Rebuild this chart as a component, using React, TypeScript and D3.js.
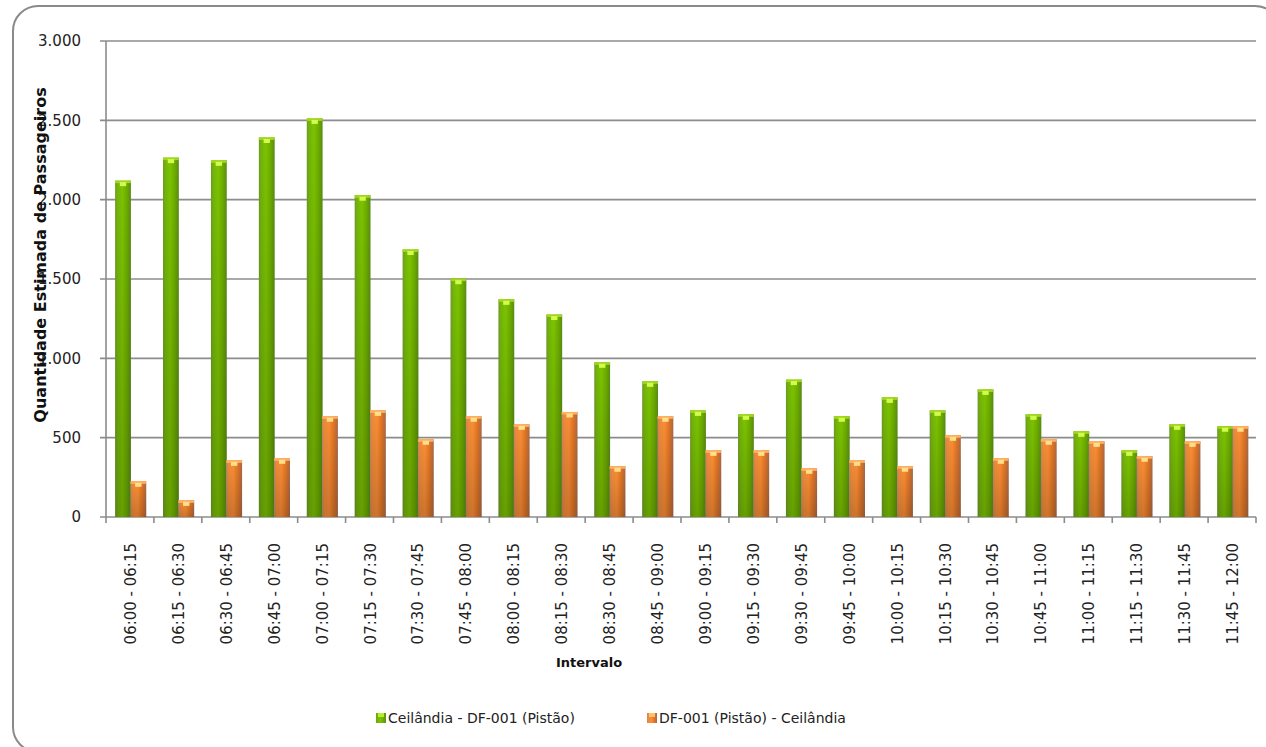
import React from "react";
import * as d3 from "d3";

const categories = [
  "06:00 - 06:15", "06:15 - 06:30", "06:30 - 06:45", "06:45 - 07:00",
  "07:00 - 07:15", "07:15 - 07:30", "07:30 - 07:45", "07:45 - 08:00",
  "08:00 - 08:15", "08:15 - 08:30", "08:30 - 08:45", "08:45 - 09:00",
  "09:00 - 09:15", "09:15 - 09:30", "09:30 - 09:45", "09:45 - 10:00",
  "10:00 - 10:15", "10:15 - 10:30", "10:30 - 10:45", "10:45 - 11:00",
  "11:00 - 11:15", "11:15 - 11:30", "11:30 - 11:45", "11:45 - 12:00",
];
const ceilandiaDF001 = [
  2120, 2265, 2248, 2392, 2512, 2028, 1686, 1502, 1372, 1276, 975, 855,
  672, 647, 866, 635, 754, 672, 804, 647, 540, 420, 584, 572,
];
const df001Ceilandia = [
  225, 105, 357, 370, 635, 672, 490, 635, 584, 662, 320, 635,
  420, 420, 307, 357, 320, 515, 370, 490, 477, 383, 477, 572,
];
const yTicks = [0, 500, 1000, 1500, 2000, 2500, 3000];
const seriesNames = ["Ceilândia - DF-001 (Pistão)", "DF-001 (Pistão) - Ceilândia"];

const W = 1266;
const H = 747;
const plot = { left: 106, right: 1256, top: 41, bottom: 517 };
const FONT = "'DejaVu Sans', sans-serif";
const fmt = (v: number) => (v === 0 ? "0" : d3.format(",")(v).replace(/,/g, "."));

export default function App() {
  const x = d3.scaleBand<string>().domain(categories).range([plot.left, plot.right]).padding(0);
  const y = d3.scaleLinear().domain([0, 3000]).range([plot.bottom, plot.top]);
  const bw = x.bandwidth();
  const series = [
    { values: ceilandiaDF001, off: 0.19, grad: "gG", cap: "#9fd81a", hi: "#d4fa50" },
    { values: df001Ceilandia, off: 0.51, grad: "gO", cap: "#ffb060", hi: "#ffe08a" },
  ];
  const barW = bw * 0.33;

  return (
    <svg width={W} height={H} style={{ position: "absolute", left: 0, top: 0, background: "#fff" }}>
      <defs>
        <linearGradient id="gG" x1="0" x2="1" y1="0" y2="0">
          <stop offset="0" stopColor="#6c9a2c" />
          <stop offset="0.15" stopColor="#74b40a" />
          <stop offset="0.45" stopColor="#7cc400" />
          <stop offset="0.75" stopColor="#6cac00" />
          <stop offset="1" stopColor="#5a8c14" />
        </linearGradient>
        <linearGradient id="gO" x1="0" x2="1" y1="0" y2="0">
          <stop offset="0" stopColor="#c08a68" />
          <stop offset="0.15" stopColor="#f08a3a" />
          <stop offset="0.45" stopColor="#fa8e34" />
          <stop offset="0.75" stopColor="#e07424" />
          <stop offset="1" stopColor="#a86a4a" />
        </linearGradient>
        <linearGradient id="shade" x1="0" x2="0" y1="0" y2="1">
          <stop offset="0" stopColor="#000" stopOpacity="0" />
          <stop offset="1" stopColor="#000" stopOpacity="0.18" />
        </linearGradient>
      </defs>

      <rect x={13} y={6} width={1267} height={746} rx={25} ry={25} fill="#fff" stroke="#8a8a8a" strokeWidth={2} />

      {/* gridlines */}
      {yTicks.map((t) => (
        <line key={"g" + t} x1={plot.left - 6} x2={plot.right} y1={y(t)} y2={y(t)} stroke="#8c8c8c" strokeWidth={1.6} />
      ))}
      <line x1={plot.left} x2={plot.left} y1={plot.top} y2={plot.bottom} stroke="#8c8c8c" strokeWidth={1.6} />
      {d3.range(categories.length + 1).map((i) => {
        const xx = plot.left + i * bw;
        return <line key={"xt" + i} x1={xx} x2={xx} y1={plot.bottom} y2={plot.bottom + 6} stroke="#8c8c8c" strokeWidth={1.6} />;
      })}

      {/* bars */}
      {categories.map((c, i) => (
        <g key={c}>
          {series.map((s, k) => {
            const x0 = (x(c) as number) + bw * s.off;
            const v = s.values[i];
            const top = y(v);
            const h = plot.bottom - top;
            return (
              <g key={k}>
                <rect x={x0} y={top} width={barW} height={h} fill={`url(#${s.grad})`} />
                <rect x={x0} y={top} width={barW} height={h} fill="url(#shade)" />
                <rect x={x0} y={top} width={barW} height={2.5} fill={s.cap} />
                <rect x={x0 + barW * 0.3} y={top + 1.5} width={barW * 0.4} height={4} fill={s.hi} />
              </g>
            );
          })}
        </g>
      ))}

      {/* y tick labels */}
      {yTicks.map((t) => (
        <text key={"yl" + t} x={81} y={y(t)} dy="0.36em" textAnchor="end" fontFamily={FONT} fontSize={15} fill="#222">
          {fmt(t)}
        </text>
      ))}

      {/* x tick labels */}
      {categories.map((c) => {
        const cx = (x(c) as number) + bw / 2;
        return (
          <text key={"xl" + c} transform={`translate(${cx + 6},${plot.bottom + 26}) rotate(-90)`} textAnchor="end" fontFamily={FONT} fontSize={15} fill="#222">
            {c}
          </text>
        );
      })}

      {/* axis titles */}
      <text x={589} y={667} textAnchor="middle" fontFamily={FONT} fontSize={13} fontWeight="bold" fill="#111">
        Intervalo
      </text>
      <text transform={`translate(46,255) rotate(-90)`} textAnchor="middle" fontFamily={FONT} fontSize={16} fontWeight="bold" fill="#111">
        Quantidade Estimada de Passageiros
      </text>

      {/* legend */}
      {[{ x: 376, g: "gG", cap: "#b4ec30" }, { x: 647, g: "gO", cap: "#ffc070" }].map((l, k) => (
        <g key={"lg" + k}>
          <rect x={l.x} y={713} width={10} height={10} fill={`url(#${l.g})`} />
          <rect x={l.x + 2} y={713} width={6} height={4} fill={l.cap} />
          <text x={l.x + 12} y={718} dy="0.36em" fontFamily={FONT} fontSize={14} fill="#222">
            {seriesNames[k]}
          </text>
        </g>
      ))}
    </svg>
  );
}
